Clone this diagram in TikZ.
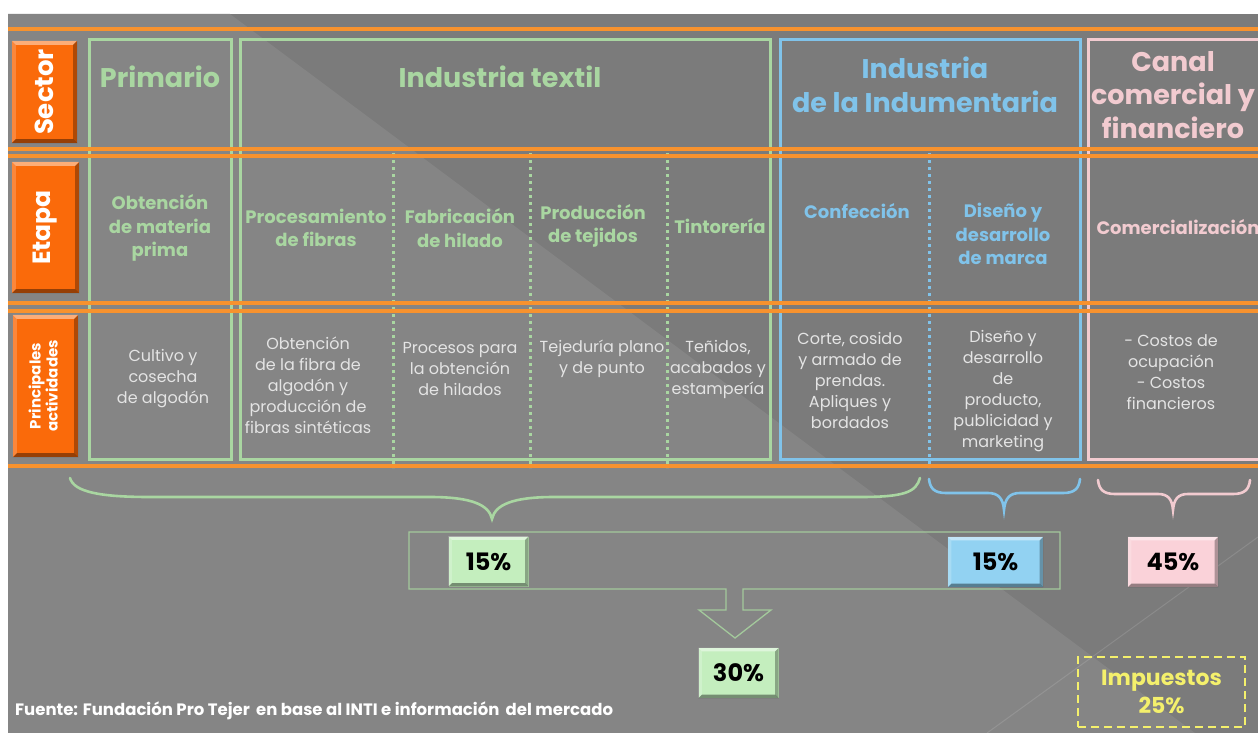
\documentclass[tikz,border=0pt]{standalone}
\usepackage{fontspec}
\usepackage{graphicx}
\setmainfont{Poppins}
\definecolor{bgbase}{HTML}{7B7B7B}
\definecolor{bglight}{HTML}{858585}
\definecolor{orangeline}{HTML}{F7922E}
\definecolor{btnorange}{HTML}{FA6A0A}
\definecolor{txgreen}{HTML}{A9D6A1}
\definecolor{txblue}{HTML}{80C3EA}
\definecolor{txpink}{HTML}{F2CBD0}
\definecolor{txgray}{HTML}{E4E4E4}
\definecolor{boxgreen}{HTML}{C4EEBE}
\definecolor{boxblue}{HTML}{92D2F2}
\definecolor{boxpink}{HTML}{FAD2D9}
\definecolor{yel}{HTML}{F4F06C}
% bevelled edges drawn over a rectangular node
\newcommand\bevelon[2]{%
  \fill[white,opacity=.45] (#1.north west) -- (#1.north east) -- ([xshift=-#2,yshift=-#2]#1.north east) -- ([xshift=#2,yshift=-#2]#1.north west) -- cycle;
  \fill[white,opacity=.2] (#1.north west) -- ([xshift=#2,yshift=-#2]#1.north west) -- ([xshift=#2,yshift=#2]#1.south west) -- (#1.south west) -- cycle;
  \fill[black,opacity=.4] (#1.south west) -- (#1.south east) -- ([xshift=-#2,yshift=#2]#1.south east) -- ([xshift=#2,yshift=#2]#1.south west) -- cycle;
  \fill[black,opacity=.3] (#1.south east) -- (#1.north east) -- ([xshift=-#2,yshift=-#2]#1.north east) -- ([xshift=-#2,yshift=#2]#1.south east) -- cycle;}
\begin{document}
\begin{tikzpicture}[x=1pt,y=-1pt,
  frame/.style={line width=3pt},
  dotline/.style={line width=3pt,dash pattern=on 3pt off 4pt},
  oline/.style={orangeline,line width=3.6pt},
  btn/.style={fill=btnorange,inner sep=0pt,text=white,font=\bfseries},
  sectortxt/.style={align=center,font=\fontsize{27}{33.5}\selectfont\bfseries},
  etapatxt/.style={align=center,font=\fontsize{18}{23.5}\selectfont\bfseries},
  acttxt/.style={align=center,text=txgray,font=\fontsize{16}{21}\selectfont},
  pct/.style={minimum width=80pt,minimum height=50pt,inner sep=0pt,font=\fontsize{24}{26}\selectfont\bfseries},
  brace/.style={line width=2.6pt,line cap=round}]
\useasboundingbox (0,0) rectangle (1258,733);
\clip (0,0) rectangle (1258,733);
% background with the diagonal light band
\fill[white] (0,0) rectangle (1258,733);
\fill[bgbase] (8,14) rectangle (1258,733);
\fill[bglight] (8,14) -- (230,14) -- (1195,733) -- (8,733) -- cycle;
\draw[white,opacity=.12,line width=1pt] (1258,537) -- (987,733);

% sector frames
\draw[frame,txgreen] (89,40) rectangle (231,459);
\draw[frame,txgreen] (240,40) rectangle (770,459);
\draw[frame,txblue] (780,40) rectangle (1080,459);
\draw[frame,txpink] (1088,40) rectangle (1270,459);

% stage separators
\draw[dotline,txgreen] (393,153) -- (393,468);
\draw[dotline,txgreen] (530,153) -- (530,468);
\draw[dotline,txgreen] (667,153) -- (667,468);
\draw[dotline,txblue] (929,153) -- (929,468);

% orange row rules
\draw[oline] (8,29) -- (1258,29);
\draw[oline] (8,149) -- (1258,149);
\draw[oline] (8,156) -- (1258,156);
\draw[oline] (8,303) -- (1258,303);
\draw[oline] (8,311) -- (1258,311);
\draw[oline] (8,466) -- (1258,466);

% row headers
\node[btn,minimum width=65pt,minimum height=102pt] (bsec) at (44.5,92)
  {\rotatebox{90}{\fontsize{26}{28}\selectfont Sector}};
\bevelon{bsec}{4pt}
\node[btn,minimum width=67pt,minimum height=131pt] (beta) at (45.5,227.5)
  {\rotatebox{90}{\fontsize{25}{26}\selectfont Etapa}};
\bevelon{beta}{4pt}
\node[btn,minimum width=65pt,minimum height=142pt] (bact) at (45.5,386)
  {\rotatebox{90}{\fontsize{15}{16}\selectfont\begin{tabular}{@{}c@{}}Principales\\actividades\end{tabular}}};
\bevelon{bact}{4pt}

% sector titles
\node[sectortxt,text=txgreen] (sprim) at (160,77) {Primario};
\node[sectortxt,text=txgreen] (stext) at (500,77) {Industria textil};
\node[sectortxt,text=txblue] (sindu) at (925,85) {Industria\\de la Indumentaria};
\node[sectortxt,text=txpink] (scan) at (1173,95) {Canal\\comercial y\\financiero};

% stages
\node[etapatxt,text=txgreen] (e1) at (160,228) {Obtención\\de materia\\prima};
\node[etapatxt,text=txgreen] (e2) at (316,228) {Procesamiento\\de fibras};
\node[etapatxt,text=txgreen] (e3) at (460,228) {Fabricación\\de hilado};
\node[etapatxt,text=txgreen] (e4) at (593,226) {Producción\\de tejidos};
\node[etapatxt,text=txgreen] (e5) at (720,226) {Tintorería};
\node[etapatxt,text=txblue] (e6) at (857,211) {Confección};
\node[etapatxt,text=txblue] (e7) at (1003,234) {Diseño y\\desarrollo\\de marca};
\node[etapatxt,text=txpink] (e8) at (1178,227) {Comercialización};

% main activities
\node[acttxt] (a1) at (163,379) {Cultivo y\\cosecha\\de algodón};
\node[acttxt] (a2) at (308,385) {Obtención\\de la fibra de\\algodón y\\producción de\\fibras sintéticas};
\node[acttxt] (a3) at (460,369) {Procesos para\\la obtención\\de hilados};
\node[acttxt] (a4) at (602,359) {Tejeduría plano\\y de punto};
\node[acttxt] (a5) at (718,369) {Teñidos,\\acabados y\\estampería};
\node[acttxt] (a6) at (850,380) {Corte, cosido\\y armado de\\prendas.\\Apliques y\\bordados};
\node[acttxt] (a7) at (1003,391) {Diseño y\\desarrollo\\de\\producto,\\publicidad y\\marketing};
\node[acttxt] (a8) at (1171,372) {- Costos de\\ocupación\\- Costos\\financieros};

% grouping braces
\draw[brace,txgreen] (70,478) .. controls (74,492) and (100,497) .. (150,497)
  -- (430,497) .. controls (472,497) and (489,505) .. (492,519)
  .. controls (495,505) and (512,497) .. (554,497) -- (860,497)
  .. controls (905,497) and (916,492) .. (920,478);
\draw[brace,txblue] (929,479) .. controls (930,489) and (935,493) .. (946,493)
  -- (988,493) .. controls (998,493) and (1003,498) .. (1004,510)
  .. controls (1005,498) and (1010,493) .. (1020,493) -- (1063,493)
  .. controls (1074,493) and (1079,489) .. (1080,479);
\draw[brace,txpink] (1098,480) .. controls (1099,490) and (1104,494) .. (1115,494)
  -- (1158,494) .. controls (1168,494) and (1172,499) .. (1173,510)
  .. controls (1174,499) and (1178,494) .. (1188,494) -- (1233,494)
  .. controls (1244,494) and (1249,490) .. (1250,480);

% outline around the manufacturing share, with its down arrow
\draw[txgreen!85!gray,line width=1.3pt,line join=miter] (726,589) -- (409,589) -- (409,532) -- (1060,532)
  -- (1060,589) -- (743,589) -- (743,610) -- (771,610) -- (735,638) -- (699,610)
  -- (726,610) -- cycle;

% shares
\node[pct,fill=boxgreen] (p1) at (488.5,561.5) {15\%};
\bevelon{p1}{3.5pt}
\node[pct,fill=boxblue,minimum width=95pt] (p2) at (995.5,562) {15\%};
\bevelon{p2}{3.5pt}
\node[pct,fill=boxpink,minimum width=90pt] (p3) at (1173,562) {45\%};
\bevelon{p3}{3.5pt}
\node[pct,fill=boxgreen] (p4) at (738.5,673) {30\%};
\bevelon{p4}{3.5pt}

% taxes
\node[draw=yel,line width=2pt,dash pattern=on 8pt off 5pt,minimum width=167pt,minimum height=70pt,
  align=center,text=yel,font=\fontsize{22}{28}\selectfont\bfseries] (tax) at (1161.5,692) {Impuestos\\25\%};

% source
\node[anchor=west,text=white,inner sep=0pt,font=\fontsize{16.5}{18}\selectfont\bfseries] (src) at (15,711)
  {Fuente: Fundación Pro Tejer\, en base al INTI e información\, del mercado};
\end{tikzpicture}
\end{document}
